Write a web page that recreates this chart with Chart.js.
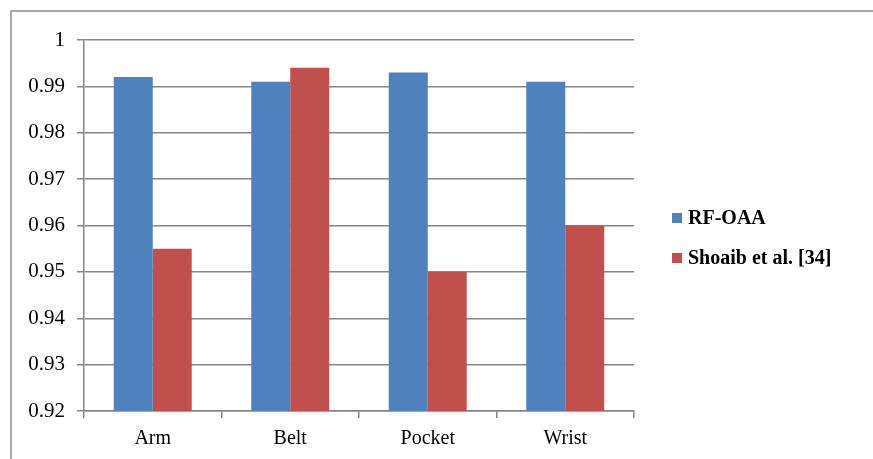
<!DOCTYPE html>
<html>
<head>
<meta charset="utf-8">
<script src="https://cdn.jsdelivr.net/npm/chart.js@4"></script>
<style>
  html, body { margin: 0; padding: 0; background: #ffffff; }
  #wrap { width: 873px; height: 459px; position: relative; }
</style>
</head>
<body>
<div id="wrap"><canvas id="chart" width="873" height="459"></canvas></div>
<script>
// Classification accuracy per sensor position
const categories = ['Arm', 'Belt', 'Pocket', 'Wrist'];
const rfOaa = [0.992, 0.991, 0.993, 0.991];
const shoaib = [0.955, 0.994, 0.950, 0.960];
const seriesNames = ['RF-OAA', 'Shoaib et al. [34]'];
const seriesColors = ['#4F81BD', '#C0504D'];
const yMin = 0.92, yMax = 1, yStep = 0.01;

const serif = "'Liberation Serif', 'Times New Roman', serif";
const gridGrey = '#868686';

// Frame edges (top and left) around the figure
const framePlugin = {
  id: 'frame',
  beforeDraw(chart) {
    const ctx = chart.ctx;
    ctx.save();
    ctx.fillStyle = '#ffffff';
    ctx.fillRect(0, 0, chart.width, chart.height);
    ctx.strokeStyle = '#8c8c8c';
    ctx.lineWidth = 1.5;
    ctx.beginPath();
    ctx.moveTo(chart.width, 11);
    ctx.lineTo(11, 11);
    ctx.lineTo(11, chart.height);
    ctx.stroke();
    ctx.restore();
  }
};

// Legend on the right, drawn from the dataset labels and colours
const sideLegend = {
  id: 'sideLegend',
  afterDraw(chart) {
    const ctx = chart.ctx;
    ctx.save();
    ctx.font = "bold 20px " + serif;
    ctx.textBaseline = 'middle';
    ctx.textAlign = 'left';
    const x = chart.chartArea.right + 38;
    const y0 = 218, gap = 40;
    chart.data.datasets.forEach((ds, i) => {
      const y = y0 + i * gap;
      ctx.fillStyle = ds.backgroundColor;
      ctx.fillRect(x, y - 5, 10, 10);
      ctx.fillStyle = '#000000';
      ctx.fillText(ds.label, x + 16, y + 1);
    });
    ctx.restore();
  }
};

new Chart(document.getElementById('chart'), {
  type: 'bar',
  data: {
    labels: categories,
    datasets: [
      { label: seriesNames[0], data: rfOaa, backgroundColor: seriesColors[0] },
      { label: seriesNames[1], data: shoaib, backgroundColor: seriesColors[1] }
    ]
  },
  options: {
    responsive: false,
    animation: false,
    devicePixelRatio: 1,
    layout: { padding: { left: 0, top: 40, right: 239, bottom: 0 } },
    datasets: { bar: { categoryPercentage: 0.567, barPercentage: 1.0, borderWidth: 0 } },
    plugins: {
      legend: { display: false },
      tooltip: { enabled: false }
    },
    scales: {
      x: {
        offset: true,
        afterFit(scale) { scale.height = 48; },
        grid: {
          offset: true,
          drawOnChartArea: false,
          drawTicks: true,
          tickLength: 7,
          color: gridGrey,
          lineWidth: 1.5
        },
        border: { display: true, color: gridGrey, width: 1.5 },
        ticks: {
          color: '#000000',
          font: { family: serif, size: 20 },
          padding: 9,
          maxRotation: 0
        }
      },
      y: {
        min: yMin,
        max: yMax,
        afterFit(scale) { scale.width = 84; },
        grid: {
          color: gridGrey,
          lineWidth: 1.5,
          drawTicks: true,
          tickLength: 7
        },
        border: { display: true, color: gridGrey, width: 1.5 },
        ticks: {
          stepSize: yStep,
          color: '#000000',
          font: { family: serif, size: 21 },
          padding: 12,
          callback: (v) => String(Number(v.toFixed(2)))
        }
      }
    }
  },
  plugins: [framePlugin, sideLegend]
});
</script>
</body>
</html>
